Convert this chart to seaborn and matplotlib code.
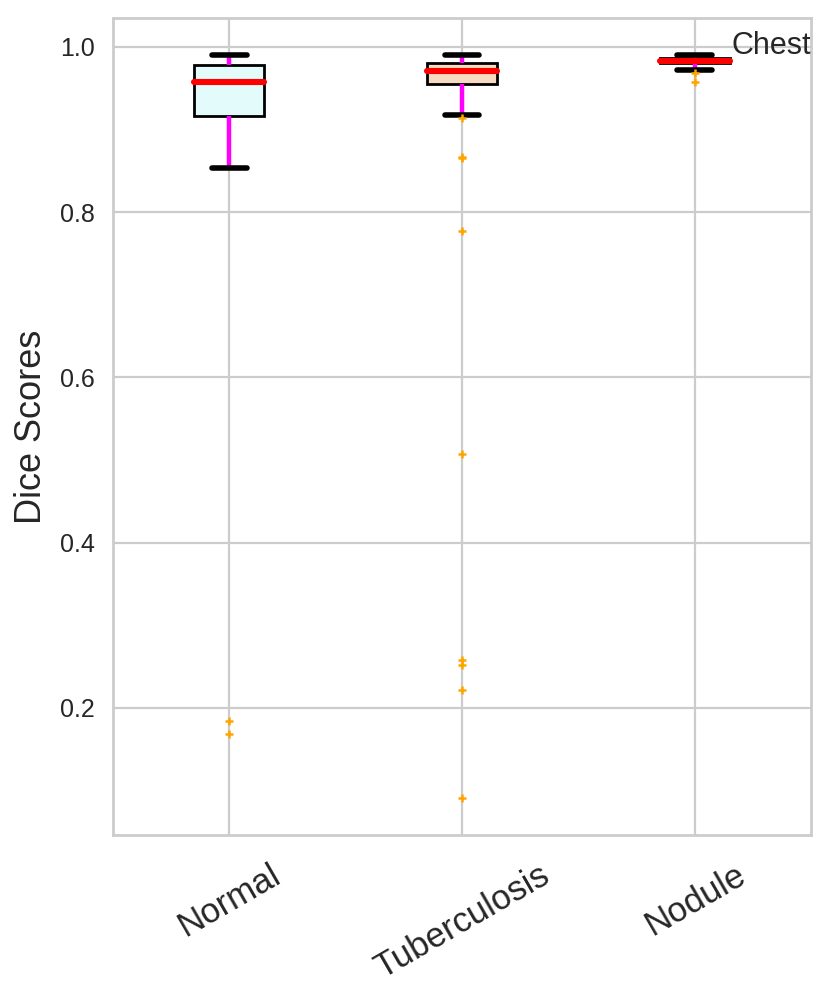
import pandas as pd
import seaborn as sns
from matplotlib import pyplot as plt

# values (boxes, whiskers and outliers)
categories = ["Normal", "Tuberculosis", "Nodule"]
normal = [0.168, 0.184, 0.853, 0.890, 0.916, 0.925, 0.935, 0.948, 0.958,
          0.962, 0.967, 0.973, 0.978, 0.982, 0.985, 0.988, 0.990]
tuberculosis = [0.091, 0.222, 0.252, 0.258, 0.507, 0.777, 0.865, 0.867, 0.914,
                0.918, 0.955, 0.957, 0.959, 0.961, 0.962, 0.964, 0.965, 0.967,
                0.968, 0.970, 0.971, 0.972, 0.973, 0.974, 0.975, 0.976, 0.977,
                0.978, 0.979, 0.980, 0.981, 0.982, 0.983, 0.984, 0.985, 0.986,
                0.987, 0.988, 0.988, 0.989, 0.990]
nodule = [0.958, 0.968, 0.972, 0.980, 0.981, 0.982, 0.983, 0.984, 0.985,
          0.986, 0.988, 0.989, 0.990]
box_colors = ["lightcyan", "peachpuff", "lavender"]

df = pd.DataFrame({
    "Class": ["Normal"] * len(normal) + ["Tuberculosis"] * len(tuberculosis) + ["Nodule"] * len(nodule),
    "Dice": normal + tuberculosis + nodule,
})

sns.set_theme(context="paper", style="whitegrid")
plt.rcParams['font.family'] = ['Liberation Sans', 'DejaVu Sans']

fig, ax = plt.subplots(figsize=(4.155, 4.995), dpi=200)
fig.subplots_adjust(left=0.136, right=0.976, bottom=0.164, top=0.982)

sns.boxplot(data=df, x="Class", y="Dice", hue="Class", order=categories,
            hue_order=categories, palette=dict(zip(categories, box_colors)),
            legend=False, width=0.3, linecolor="black", ax=ax,
            boxprops=dict(edgecolor="black", linewidth=1),
            medianprops=dict(color="red", linewidth=2.2, solid_capstyle="round"),
            whiskerprops=dict(color="magenta", linewidth=1.6),
            capprops=dict(color="black", linewidth=2, solid_capstyle="round"),
            flierprops=dict(marker="+", markeredgecolor="orange",
                            markerfacecolor="orange", markersize=3,
                            markeredgewidth=0.9))

ax.xaxis.grid(True)
ax.set_axisbelow(True)
ax.set_xlim(-0.5, 2.5)
ax.set_xlabel("")
ax.set_ylabel("Dice Scores", fontsize=13)
ax.tick_params(axis="y", labelsize=9, pad=1.8)
ax.tick_params(axis="x", labelsize=12.5, labelrotation=30)
ax.text(1.0, 0.956, "Chest", transform=ax.transAxes, ha="right",
        va="baseline", fontsize=11)

plt.savefig("out.png", dpi=200)
